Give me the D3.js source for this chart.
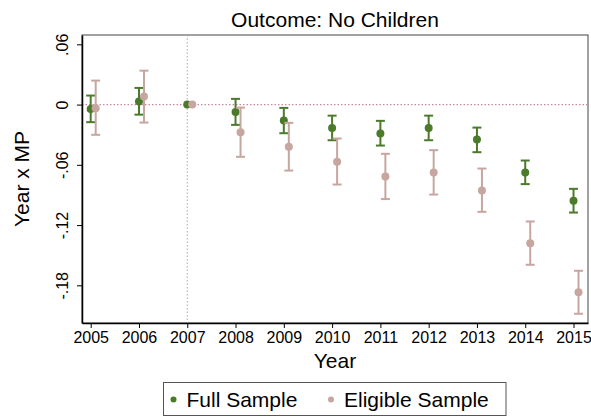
<!DOCTYPE html>
<html>
<head>
<meta charset="utf-8">
<script src="https://cdn.jsdelivr.net/npm/d3@7"></script>
<style>
  body { margin: 0; background: #fff; }
  text { font-family: "Liberation Sans", Arial, sans-serif; fill: #000; }
</style>
</head>
<body>
<svg id="chart" width="591" height="416"></svg>
<script>
// chart data
var years = [2005, 2006, 2007, 2008, 2009, 2010, 2011, 2012, 2013, 2014, 2015];
var yTicks = [0.06, 0, -0.06, -0.12, -0.18];
var yTickLabels = [".06", "0", "-.06", "-.12", "-.18"];

var fullEst = [-0.0043, 0.003, 0, -0.0073, -0.0159, -0.0232, -0.0289, -0.0232, -0.0348, -0.0677, -0.0958];
var fullLo  = [-0.0175, -0.010, 0, -0.0202, -0.0285, -0.0355, -0.0408, -0.0355, -0.0474, -0.0792, -0.1075];
var fullHi  = [0.009, 0.0166, 0, 0.0057, -0.0033, -0.011, -0.0162, -0.011, -0.0229, -0.0557, -0.0839];

var eligEst = [-0.0036, 0.008, 0, -0.0275, -0.0421, -0.057, -0.0716, -0.0677, -0.0856, -0.138, -0.187];
var eligLo  = [-0.0301, -0.0179, 0, -0.052, -0.0657, -0.0796, -0.0941, -0.0896, -0.1068, -0.1595, -0.2083];
var eligHi  = [0.0239, 0.0338, 0, -0.003, -0.0182, -0.0338, -0.049, -0.0454, -0.0637, -0.1164, -0.1655];

var GREEN = "#4b7a2b", PINK = "#c6a69f";

var svg = d3.select("#chart");
var margin = {top: 35, right: 3, bottom: 93, left: 82};
var width = 591 - margin.left - margin.right,
    height = 416 - margin.top - margin.bottom;

var x = d3.scaleLinear().domain([2004.82, 2015.3]).range([0, width]);
var y = d3.scaleLinear().domain([-0.2175, 0.0693]).range([height, 0]);

var g = svg.append("g")
  .attr("transform", "translate(" + margin.left + "," + margin.top + ")");

// plot frame
g.append("rect")
  .attr("width", width).attr("height", height)
  .attr("fill", "none").attr("stroke", "#444").attr("stroke-width", 1);

// reference lines
g.append("line")
  .attr("x1", 0).attr("x2", width)
  .attr("y1", y(0)).attr("y2", y(0))
  .attr("stroke", "#c9889a").attr("stroke-width", 1.2)
  .attr("stroke-dasharray", "1.5,2");
g.append("line")
  .attr("x1", x(2007)).attr("x2", x(2007))
  .attr("y1", 0).attr("y2", height)
  .attr("stroke", "#aaa").attr("stroke-width", 1)
  .attr("stroke-dasharray", "1.5,2");

// axes
var xAxis = d3.axisBottom(x).tickValues(years).tickFormat(d3.format("d")).tickSize(5).tickSizeOuter(0);
var yAxis = d3.axisLeft(y).tickValues(yTicks)
  .tickFormat(function(d, i) { return yTickLabels[i]; }).tickSize(5).tickSizeOuter(0);

var gx = g.append("g")
  .attr("transform", "translate(0," + height + ")")
  .call(xAxis);
gx.select(".domain").attr("stroke", "#000").attr("stroke-width", 1.5);
gx.selectAll(".tick line").attr("stroke", "#000");
gx.selectAll(".tick text")
  .attr("y", 9).attr("dy", "0.71em")
  .style("font-size", "16px").attr("fill", "#000");

var gy = g.append("g").call(yAxis);
gy.select(".domain").attr("stroke", "#000").attr("stroke-width", 1.5);
gy.selectAll(".tick line").attr("stroke", "#000");
gy.selectAll(".tick text")
  .attr("x", null).attr("dy", null)
  .attr("text-anchor", "middle")
  .attr("transform", "translate(-14,0) rotate(-90)")
  .style("font-size", "16px").attr("fill", "#000");

// estimates with confidence intervals
function drawSeries(est, lo, hi, offset, color) {
  var s = g.append("g");
  years.forEach(function(yr, i) {
    var cx = x(yr) + offset;
    if (lo[i] !== hi[i]) {
      s.append("line")
        .attr("x1", cx).attr("x2", cx)
        .attr("y1", y(lo[i])).attr("y2", y(hi[i]))
        .attr("stroke", color).attr("stroke-width", 2);
      [lo[i], hi[i]].forEach(function(v) {
        s.append("line")
          .attr("x1", cx - 4.5).attr("x2", cx + 4.5)
          .attr("y1", y(v)).attr("y2", y(v))
          .attr("stroke", color).attr("stroke-width", 2);
      });
    }
    s.append("circle")
      .attr("cx", cx).attr("cy", y(est[i]))
      .attr("r", 4).attr("fill", color);
  });
}
drawSeries(fullEst, fullLo, fullHi, 0, GREEN);
drawSeries(eligEst, eligLo, eligHi, 5, PINK);

// titles
svg.append("text")
  .attr("x", margin.left + width / 2).attr("y", 27)
  .attr("text-anchor", "middle").style("font-size", "21px")
  .text("Outcome: No Children");

svg.append("text")
  .attr("x", margin.left + width / 2).attr("y", 368)
  .attr("text-anchor", "middle").style("font-size", "21px")
  .text("Year");

svg.append("text")
  .attr("text-anchor", "middle").style("font-size", "21px")
  .attr("transform", "translate(29," + (margin.top + height / 2) + ") rotate(-90)")
  .text("Year x MP");

// legend
var leg = svg.append("g");
leg.append("rect")
  .attr("x", 163.5).attr("y", 382.5).attr("width", 342.5).attr("height", 33)
  .attr("fill", "#fff").attr("stroke", "#555").attr("stroke-width", 1);
var legItems = [
  {label: "Full Sample", color: GREEN, x: 173.5},
  {label: "Eligible Sample", color: PINK, x: 331}
];
legItems.forEach(function(d) {
  leg.append("circle").attr("cx", d.x).attr("cy", 399.5).attr("r", 3).attr("fill", d.color);
  leg.append("text").attr("x", d.x + 13).attr("y", 407)
    .style("font-size", "21px").text(d.label);
});
</script>
</body>
</html>
